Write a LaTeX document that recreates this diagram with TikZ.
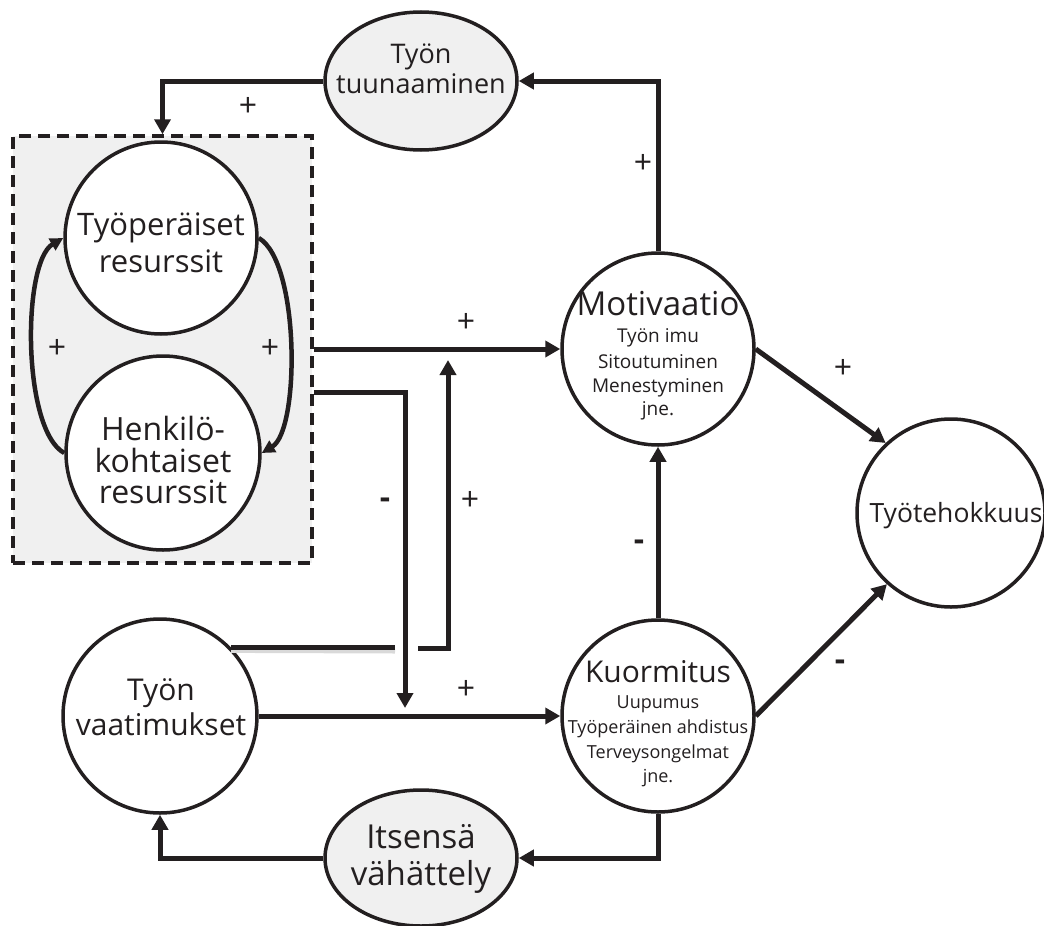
\documentclass[tikz,border=0pt]{standalone}
\usepackage{fontspec}
\setmainfont{Open Sans}
\usetikzlibrary{arrows.meta,shapes.geometric}
\definecolor{ink}{HTML}{231F20}
\definecolor{pale}{HTML}{F0F0F0}
\begin{document}
\begin{tikzpicture}[x=1pt,y=-1pt,
  circ/.style={circle,draw=ink,line width=3.5pt,fill=white,minimum size=#1,inner sep=0pt},
  circ/.default=192pt,
  ell/.style={ellipse,draw=ink,line width=3.5pt,fill=pale,minimum width=192pt,minimum height=#1,inner sep=0pt},
  txt/.style={anchor=base,text=ink,inner sep=0pt,font=\fontsize{#1}{#1}\selectfont},
  arr/.style={draw=ink,line width=5pt,-{Triangle[length=15pt,width=16pt]}},
  carr/.style={draw=ink,line width=4.5pt,-{Triangle[length=13pt,width=13pt]}},
  conn/.style={draw=ink,line width=5pt},
  sign/.style={text=ink,inner sep=0pt,font=\fontsize{32}{32}\selectfont},
  minus/.style={text=ink,inner sep=0pt,font=\fontsize{32}{32}\selectfont\bfseries}
]
\useasboundingbox (0,0) rectangle (1044,926);

% dashed resource box
\node[draw=ink,line width=3.5pt,dash pattern=on 12pt off 7pt,fill=pale,
      minimum width=299pt,minimum height=427pt,inner sep=0pt] (box) at (162.5,349.5) {};

% nodes
\node[circ] (tr) at (161,238) {};
\node[circ=194pt] (henk) at (163,453) {};
\node[circ] (motiv) at (658,349) {};
\node[circ] (kuorm) at (658,716) {};
\node[circ=194pt] (vaat) at (160,716) {};
\node[circ=188pt] (tyot) at (951,513) {};
\node[ell=138pt] (tuun) at (421,81) {};
\node[ell=136pt] (itse) at (421,858) {};

% texts
\node[txt=27] (tuunA) at (421,63) {Työn};
\node[txt=27] (tuunB) at (421,93) {tuunaaminen};
\node[txt=31] (trA) at (161,235) {Työperäiset};
\node[txt=31] (trB) at (161,272) {resurssit};
\node[txt=32] (henkA) at (163,440) {Henkilö-};
\node[txt=32] (henkB) at (163,472) {kohtaiset};
\node[txt=32] (henkC) at (163,503) {resurssit};
\node[txt=30] (vaatA) at (161,700) {Työn};
\node[txt=30] (vaatB) at (161,735) {vaatimukset};
\node[txt=33] (itseA) at (421,848) {Itsensä};
\node[txt=33] (itseB) at (421,885) {vähättely};
\node[txt=33] (motivT) at (658,315) {Motivaatio};
\foreach \t/\y [count=\i] in {Työn imu/342,Sitoutuminen/368,Menestyminen/392,jne./415}
  \node[txt=19] (motiv\i) at (658,\y) {\t};
\node[txt=30] (kuormT) at (658,682) {Kuormitus};
\foreach \t/\y [count=\i] in {Uupumus/708,Työperäinen ahdistus/733,Terveysongelmat/758,jne./782}
  \node[txt=18] (kuorm\i) at (658,\y) {\t};
\node[txt=26.5] (tyotT) at (956,522) {Työtehokkuus};

% connectors
\draw[arr] (motiv.north) |- (tuun.east);
\draw[arr] (tuun.west) -| (box.north);
\draw[carr] (henk.west) .. controls (22,430) and (22,262) .. (tr.west);
\draw[carr] (tr.east) .. controls (300,262) and (300,430) .. (henk.east);
\draw[arr] (box.east |- motiv.west) -- (motiv.west);
\coordinate (dtip) at (405,708);
\draw[arr] ([yshift=-43pt]box.east) -| (dtip);
\coordinate (ja) at (395,648);
\coordinate (jb) at (418,648);
\coordinate (jc) at (448,360);
\draw[draw=gray!30,line width=5pt] ([yshift=-3pt]vaat.44 -| vaat.44) -- ([yshift=-3pt]ja);
\draw[conn] (vaat.44) -- (vaat.44 -| ja);
\draw[arr] (jb) -| (jc);
\draw[arr] (vaat.east) -- (kuorm.west);
\draw[arr] (kuorm.north) -- (motiv.south);
\draw[arr] (kuorm.south) |- (itse.east);
\draw[arr] (itse.west) -| (vaat.south);
\draw[arr] (motiv.east) -- (tyot.133);
\draw[arr] (kuorm.east) -- (tyot.228);

% signs
\node[sign] (s1) at (248,107) {+};
\node[sign] (s2) at (643,164) {+};
\node[sign] (s3) at (57,349) {+};
\node[sign] (s4) at (270,349) {+};
\node[sign] (s5) at (466,323) {+};
\node[minus] (s6) at (385,503) {-};
\node[sign] (s7) at (470,501) {+};
\node[sign] (s8) at (466,690) {+};
\node[minus] (s9) at (639,545) {-};
\node[sign] (s10) at (843,369) {+};
\node[minus] (s11) at (840,665) {-};
\end{tikzpicture}
\end{document}
